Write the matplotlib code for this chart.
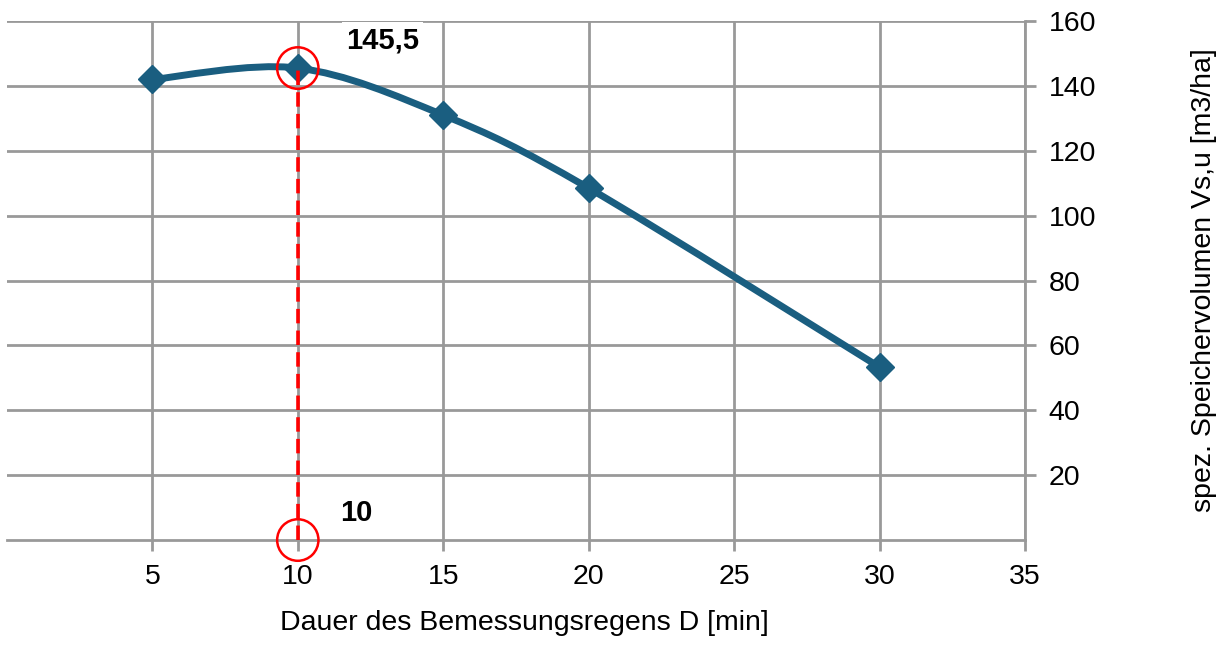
import numpy as np
from matplotlib import pyplot as plt
from matplotlib.path import Path
from matplotlib.patches import PathPatch, Ellipse

plt.rcParams['font.family'] = ['Liberation Sans', 'DejaVu Sans']

dauer = [5, 10, 15, 20, 30]
volumen = [142, 145.5, 131, 108.5, 53.3]
x_ticks = [5, 10, 15, 20, 25, 30, 35]
y_ticks = [20, 40, 60, 80, 100, 120, 140, 160]
opt_x = 10
opt_y = 145.5

grey = '#999999'
blue = '#1A5E80'
red = '#FF0000'


def smooth_path(xs, ys):
    # Bezier spline like the spreadsheet "smoothed line"
    pts = np.column_stack([xs, ys]).astype(float)
    n = len(pts)
    verts = [pts[0]]
    codes = [Path.MOVETO]
    for i in range(n - 1):
        p0 = pts[i - 1] if i > 0 else pts[i]
        p1 = pts[i]
        p2 = pts[i + 1]
        p3 = pts[i + 2] if i + 2 < n else pts[i + 1]
        c1 = p1 + (p2 - p0) / 6
        c2 = p2 - (p3 - p1) / 6
        verts += [c1, c2, p2]
        codes += [Path.CURVE4] * 3
    return Path(verts, codes)


fig = plt.figure(figsize=(12.18, 6.53), dpi=100)
ax = fig.add_axes([0.0057, 0.173, 0.8358, 0.7948])
ax.set_xlim(0, 35)
ax.set_ylim(0, 160)

for s in ['top', 'left']:
    ax.spines[s].set_visible(False)
for s in ['bottom', 'right']:
    ax.spines[s].set_color(grey)
    ax.spines[s].set_linewidth(2)

ax.yaxis.tick_right()
ax.yaxis.set_label_position('right')
ax.set_xticks(x_ticks)
ax.set_yticks(y_ticks)
ax.tick_params(axis='both', colors=grey, width=2, length=8, labelsize=20.5,
               labelcolor='black', pad=9)
ax.grid(True, color=grey, linewidth=2)
ax.set_axisbelow(True)

ax.add_patch(PathPatch(smooth_path(dauer, volumen), fill=False,
                       edgecolor=blue, linewidth=5, capstyle='round', zorder=3))
ax.plot(dauer, volumen, linestyle='none', marker='D', markersize=14,
        color=blue, zorder=4)

ax.plot([opt_x, opt_x], [0, opt_y], color=red, linestyle=(0, (4, 2)),
        linewidth=2.6, zorder=5)
for cy in [opt_y, 0]:
    ax.add_patch(Ellipse((opt_x, cy), 1.42, 12.8, fill=False, edgecolor=red,
                         linewidth=1.8, zorder=6, clip_on=False))

ax.text(11.65, 154, '145,5', fontsize=21, fontweight='bold', va='center',
        ha='left', bbox=dict(facecolor='white', edgecolor='none', pad=3), zorder=7)
ax.text(11.45, 8.3, '10', fontsize=21, fontweight='bold', va='center', ha='left',
        zorder=7)

ax.set_xlabel('Dauer des Bemessungsregens D [min]', fontsize=20.5)
ax.xaxis.set_label_coords(0.508, -0.135)
ax.set_ylabel('spez. Speichervolumen Vs,u [m3/ha]', fontsize=20.5, labelpad=68)

fig.savefig('out.png', dpi=100)
